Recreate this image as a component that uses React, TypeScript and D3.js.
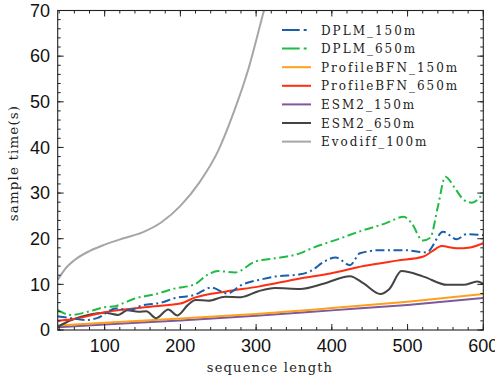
import React from "react";
import * as d3 from "d3";

const seriesNames = [
  "DPLM_150m",
  "DPLM_650m",
  "ProfileBFN_150m",
  "ProfileBFN_650m",
  "ESM2_150m",
  "ESM2_650m",
  "Evodiff_100m",
];

const dplm150X = [38, 55, 75, 90, 115, 133, 150, 175, 193, 219, 241, 262, 280, 310, 325, 358, 372, 390, 405, 424, 437, 465, 495, 525, 547, 565, 578, 600];
const dplm150Y = [3.0, 2.6, 2.2, 2.6, 4.7, 4.4, 5.4, 6.0, 7.0, 7.7, 9.3, 8.0, 9.8, 11.2, 11.7, 12.2, 12.9, 15.0, 15.9, 14.2, 16.8, 17.5, 17.5, 17.0, 21.5, 19.9, 21.0, 20.8];

const dplm650X = [38, 55, 78, 100, 114, 125, 138, 166, 193, 219, 235, 250, 272, 299, 325, 358, 375, 410, 442, 470, 495, 505, 520, 530, 540, 550, 562, 575, 585, 600];
const dplm650Y = [4.4, 3.3, 4.0, 5.0, 5.2, 5.9, 6.8, 7.8, 9.1, 10.0, 12.0, 12.9, 12.6, 15.0, 15.7, 16.8, 18.0, 20.0, 21.9, 23.3, 24.8, 23.5, 19.6, 20.2, 27.0, 33.6, 31.2, 28.4, 27.9, 30.0];

const bfn150X = [38, 100, 200, 300, 400, 500, 600];
const bfn150Y = [1.0, 1.6, 2.5, 3.5, 4.8, 6.2, 7.9];

const bfn650X = [38, 60, 100, 166, 200, 219, 259, 303, 358, 398, 442, 486, 521, 532, 545, 565, 583, 600];
const bfn650Y = [2.0, 2.4, 3.9, 5.2, 5.8, 7.1, 8.4, 9.5, 11.3, 12.4, 14.0, 15.2, 16.1, 17.2, 18.4, 17.9, 18.1, 19.0];

const esm150X = [38, 100, 200, 300, 400, 500, 600];
const esm150Y = [0.6, 1.2, 2.1, 3.1, 4.3, 5.5, 7.0];

const esm650X = [38, 56, 78, 100, 118, 130, 145, 155, 168, 184, 196, 210, 220, 237, 259, 280, 303, 325, 358, 390, 424, 442, 464, 476, 492, 521, 552, 574, 592, 600];
const esm650Y = [0.7, 2.2, 3.3, 3.8, 3.3, 4.3, 4.0, 4.1, 2.6, 4.5, 3.2, 5.5, 6.6, 6.4, 7.3, 7.2, 8.5, 9.2, 9.0, 10.2, 11.8, 10.2, 7.9, 9.0, 12.9, 11.7, 9.9, 9.9, 10.6, 10.1];

const evoX = [38, 50, 60, 80, 100, 125, 150, 175, 200, 225, 250, 270, 290, 310, 320];
const evoY = [11, 13.8, 15.3, 17.3, 18.7, 20.1, 21.4, 23.6, 27.2, 32.3, 39.3, 47.5, 57.3, 69.8, 76];

const xTicks = [100, 200, 300, 400, 500, 600];
const yTicks = [0, 10, 20, 30, 40, 50, 60, 70];

const colors = ["#1a5fa8", "#1fbb45", "#ff9f1c", "#ff2d12", "#7d5a9e", "#444444", "#a6a6a6"];
const dashed = [true, true, false, false, false, false, false];

const W = 495;
const H = 375;
const L = 57.7;
const R = 483.3;
const T = 10.5;
const B = 330;

export default function App() {
  const x = d3.scaleLinear().domain([38, 600]).range([L, R]);
  const y = d3.scaleLinear().domain([0, 70]).range([B, T]);

  const seriesData = [
    [dplm150X, dplm150Y],
    [dplm650X, dplm650Y],
    [bfn150X, bfn150Y],
    [bfn650X, bfn650Y],
    [esm150X, esm150Y],
    [esm650X, esm650Y],
    [evoX, evoY],
  ];

  const line = d3
    .line<[number, number]>()
    .x((d) => x(d[0]))
    .y((d) => y(d[1]))
    .curve(d3.curveMonotoneX);

  const drawOrder = [6, 4, 2, 5, 3, 0, 1];

  const xMinor = d3.range(40, 601, 20);
  const yMinor = d3.range(0, 71, 2);

  return (
    <svg
      width={W}
      height={H}
      style={{ position: "fixed", left: 0, top: 0, background: "#fff" }}
    >
      <defs>
        <clipPath id="plotclip">
          <rect x={L} y={T} width={R - L} height={B - T} />
        </clipPath>
      </defs>
      <g clipPath="url(#plotclip)">
        {drawOrder.map((i) => {
          const [xs, ys] = seriesData[i];
          const pts = xs.map((v, k) => [v, ys[k]] as [number, number]);
          return (
            <path
              key={i}
              d={line(pts) || ""}
              fill="none"
              stroke={colors[i]}
              strokeWidth={2}
              strokeDasharray={dashed[i] ? "9,3.5,2,3.5" : undefined}
              strokeLinejoin="round"
            />
          );
        })}
      </g>
      {/* ticks */}
      <g stroke="#222" strokeWidth={1}>
        {xMinor.map((t) => (
          <g key={"xm" + t}>
            <line x1={x(t)} x2={x(t)} y1={B} y2={B - 3} />
            <line x1={x(t)} x2={x(t)} y1={T} y2={T + 3} />
          </g>
        ))}
        {xTicks.map((t) => (
          <g key={"xM" + t}>
            <line x1={x(t)} x2={x(t)} y1={B} y2={B - 6} />
            <line x1={x(t)} x2={x(t)} y1={T} y2={T + 6} />
          </g>
        ))}
        {yMinor.map((t) => (
          <g key={"ym" + t}>
            <line x1={L} x2={L + 3} y1={y(t)} y2={y(t)} />
            <line x1={R} x2={R - 3} y1={y(t)} y2={y(t)} />
          </g>
        ))}
        {yTicks.map((t) => (
          <g key={"yM" + t}>
            <line x1={L} x2={L + 6} y1={y(t)} y2={y(t)} />
            <line x1={R} x2={R - 6} y1={y(t)} y2={y(t)} />
          </g>
        ))}
      </g>
      <rect x={L} y={T} width={R - L} height={B - T} fill="none" stroke="#222" strokeWidth={1.1} />
      {/* tick labels */}
      <g fontFamily="'Liberation Sans', Arial, sans-serif" fontSize={18} fill="#111">
        {xTicks.map((t) => (
          <text key={"xl" + t} x={x(t)} y={352} textAnchor="middle">
            {t}
          </text>
        ))}
        {yTicks.map((t) => (
          <text key={"yl" + t} x={50} y={y(t) + 6.3} textAnchor="end">
            {t}
          </text>
        ))}
      </g>
      {/* axis titles */}
      <text
        x={270}
        y={372}
        textAnchor="middle"
        fontFamily="'DejaVu Serif', serif"
        fontSize={13}
        letterSpacing={1.2}
        fill="#222"
      >
        sequence length
      </text>
      <text
        transform="translate(18,163) rotate(-90)"
        textAnchor="middle"
        fontFamily="'DejaVu Serif', serif"
        fontSize={13.5}
        letterSpacing={1.1}
        fill="#222"
      >
        sample time(s)
      </text>
      {/* legend */}
      <g>
        {seriesNames.map((name, i) => {
          const ly = 30 + i * 18.6;
          return (
            <g key={name}>
              <line
                x1={282}
                x2={311}
                y1={ly}
                y2={ly}
                stroke={colors[i]}
                strokeWidth={2}
                strokeDasharray={dashed[i] ? "17.7,4,3,10" : undefined}
              />
              <text
                x={321}
                y={ly + 4.5}
                fontFamily="'DejaVu Serif', serif"
                fontSize={12}
                letterSpacing={2}
                fill="#222"
              >
                {name}
              </text>
            </g>
          );
        })}
      </g>
    </svg>
  );
}
